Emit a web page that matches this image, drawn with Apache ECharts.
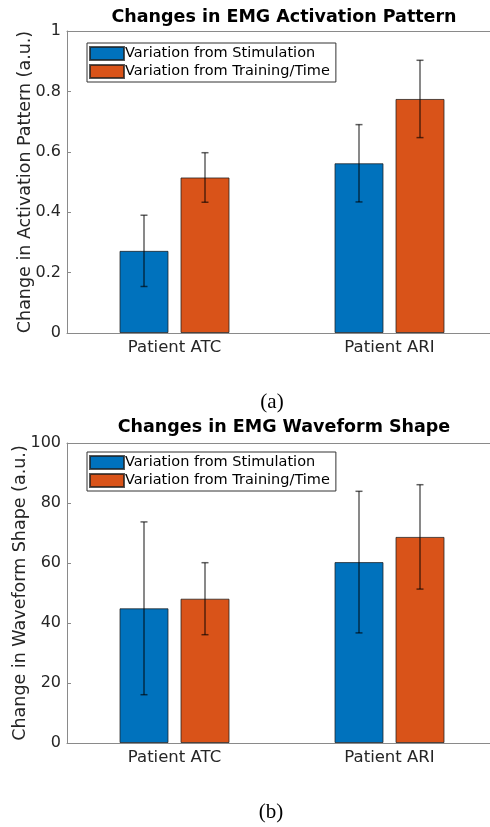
<!DOCTYPE html>
<html>
<head>
<meta charset="utf-8">
<script src="https://cdn.jsdelivr.net/npm/echarts@6/dist/echarts.min.js"></script>
<style>
  html, body { margin: 0; padding: 0; background: #fff; }
  #main { width: 490px; height: 827px; }
</style>
</head>
<body>
<div id="main"></div>
<script>
// data
var patients = ['Patient ATC', 'Patient ARI'];
var seriesNames = ['Variation from Stimulation', 'Variation from Training/Time'];

// (a) activation pattern
var actStim = [0.272, 0.562];
var actStimErr = [0.118, 0.128];
var actTrain = [0.515, 0.775];
var actTrainErr = [0.082, 0.128];

// (b) waveform shape
var waveStim = [44.9, 60.3];
var waveStimErr = [28.8, 23.6];
var waveTrain = [48.1, 68.7];
var waveTrainErr = [12.0, 17.4];

var actTicks = [0, 0.2, 0.4, 0.6, 0.8, 1];
var waveTicks = [0, 20, 40, 60, 80, 100];

var blue = '#0072BD', orange = '#D95319';
var axisCol = '#8a8a8a', txtCol = '#262626';
var font = 'DejaVu Sans';
var barW = 49, barGapPx = 12;

var myChart = echarts.init(document.getElementById('main'));

function errData(vals, errs) {
    return vals.map(function (v, i) { return [i, v - errs[i], v + errs[i]]; });
}

// error bar drawn at the bar's offset inside the category band
function errSeries(name, idx, vals, errs, shift) {
    return {
        type: 'custom',
        name: name + ' err',
        xAxisIndex: idx * 2,
        yAxisIndex: idx,
        z: 5,
        data: errData(vals, errs),
        renderItem: function (params, api) {
            var top = api.coord([api.value(0), api.value(2)]);
            var bot = api.coord([api.value(0), api.value(1)]);
            var x = top[0] + shift;
            var cap = 3.5;
            var st = { stroke: 'rgba(0,0,0,0.62)', lineWidth: 1.5 };
            return {
                type: 'group',
                children: [
                    { type: 'line', shape: { x1: x, y1: top[1], x2: x, y2: bot[1] }, style: st },
                    { type: 'line', shape: { x1: x - cap, y1: top[1], x2: x + cap, y2: top[1] }, style: st },
                    { type: 'line', shape: { x1: x - cap, y1: bot[1], x2: x + cap, y2: bot[1] }, style: st }
                ]
            };
        }
    };
}

function barSeries(name, idx, vals, color) {
    return {
        type: 'bar',
        name: name,
        xAxisIndex: idx * 2,
        yAxisIndex: idx,
        barWidth: barW,
        barGap: (barGapPx / barW * 100) + '%',
        itemStyle: { color: color, borderColor: 'rgba(30,30,30,0.75)', borderWidth: 1 },
        data: vals
    };
}

function xAxes(gi) {
    return [
        {
            type: 'category', gridIndex: gi, data: patients,
            axisLine: { lineStyle: { color: axisCol } },
            axisTick: { inside: true, alignWithLabel: true, length: 3, lineStyle: { color: axisCol } },
            axisLabel: { color: txtCol, fontFamily: font, fontSize: 16.5, margin: 6 }
        },
        {
            type: 'category', gridIndex: gi, data: patients, position: 'top',
            axisLine: { lineStyle: { color: axisCol } },
            axisTick: { inside: true, alignWithLabel: true, length: 3, lineStyle: { color: axisCol } },
            axisLabel: { show: false }
        }
    ];
}

function yAxis(gi, ticks, name, gap) {
    return {
        type: 'value', gridIndex: gi,
        min: ticks[0], max: ticks[ticks.length - 1], interval: ticks[1] - ticks[0],
        name: name, nameLocation: 'middle', nameGap: gap, nameMoveOverlap: false,
        nameTextStyle: { color: txtCol, fontFamily: font, fontSize: 17.5 },
        axisLine: { show: true, lineStyle: { color: axisCol } },
        axisTick: { show: true, inside: true, length: 4, lineStyle: { color: axisCol } },
        axisLabel: { color: txtCol, fontFamily: font, fontSize: 16, margin: 6 },
        splitLine: { show: false }
    };
}

function legend(top) {
    return {
        left: 87, top: top, orient: 'vertical',
        data: seriesNames,
        itemWidth: 34, itemHeight: 13, itemGap: 3,
        icon: 'rect',
        padding: [3, 6, 3, 2],
        borderColor: '#333', borderWidth: 1,
        backgroundColor: '#fff',
        textStyle: { color: '#000', fontFamily: font, fontSize: 14.5, padding: [0, 0, 0, -4] }
    };
}

var shift = (barW + barGapPx) / 2;

var option = {
    animation: false,
    title: [
        { text: 'Changes in EMG Activation Pattern', left: 279, top: 3, textAlign: 'center',
          textStyle: { fontFamily: font, fontSize: 17.5, fontWeight: 'bold', color: '#000' } },
        { text: 'Changes in EMG Waveform Shape', left: 279, top: 413, textAlign: 'center',
          textStyle: { fontFamily: font, fontSize: 17.5, fontWeight: 'bold', color: '#000' } },
        { text: '(a)', left: 267, top: 387, textAlign: 'center',
          textStyle: { fontFamily: 'Liberation Serif', fontSize: 21, fontWeight: 'normal', color: '#000' } },
        { text: '(b)', left: 266, top: 797, textAlign: 'center',
          textStyle: { fontFamily: 'Liberation Serif', fontSize: 21, fontWeight: 'normal', color: '#000' } }
    ],
    legend: [legend(43), legend(452)],
    grid: [
        { left: 67, top: 31, width: 430, height: 302, outerBoundsMode: 'none' },
        { left: 67, top: 443, width: 430, height: 300, outerBoundsMode: 'none' }
    ],
    xAxis: xAxes(0).concat(xAxes(1)),
    yAxis: [
        yAxis(0, actTicks, 'Change in Activation Pattern (a.u.)', 33),
        yAxis(1, waveTicks, 'Change in Waveform Shape (a.u.)', 38)
    ],
    series: [
        barSeries(seriesNames[0], 0, actStim, blue),
        barSeries(seriesNames[1], 0, actTrain, orange),
        errSeries(seriesNames[0], 0, actStim, actStimErr, -shift),
        errSeries(seriesNames[1], 0, actTrain, actTrainErr, shift),
        barSeries(seriesNames[0], 1, waveStim, blue),
        barSeries(seriesNames[1], 1, waveTrain, orange),
        errSeries(seriesNames[0], 1, waveStim, waveStimErr, -shift),
        errSeries(seriesNames[1], 1, waveTrain, waveTrainErr, shift)
    ]
};

myChart.setOption(option);
</script>
</body>
</html>
